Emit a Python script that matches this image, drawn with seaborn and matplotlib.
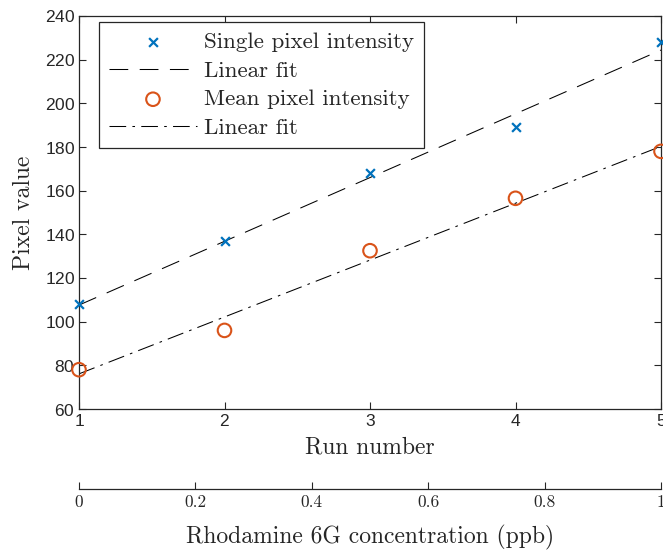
import numpy as np
import pandas as pd
import matplotlib
matplotlib.use("Agg")
import matplotlib.pyplot as plt
import seaborn as sns

# ---- data ----
run_number = [1, 2, 3, 4, 5]
single_pixel = [108, 137, 168, 189, 228]
mean_pixel = [78, 96, 132.5, 156.5, 178]
y_ticks = [60, 80, 100, 120, 140, 160, 180, 200, 220, 240]
conc_ticks = [0, 0.2, 0.4, 0.6, 0.8, 1]
conc_labels = ["0", "0.2", "0.4", "0.6", "0.8", "1"]

sns.set_theme(style="ticks")
plt.rcParams["axes.formatter.use_mathtext"] = True

SERIF = "cmr10"
SANS = "Liberation Sans"
AXC = "#262626"
BLUE = "#0072BD"
ORANGE = "#D95319"

df = pd.DataFrame({"run": run_number, "single": single_pixel, "mean": mean_pixel})
p1 = np.polyfit(df["run"], df["single"], 1)
p2 = np.polyfit(df["run"], df["mean"], 1)
xfit = np.array([1.0, 5.0])
fit = pd.DataFrame({"run": xfit,
                    "f1": np.polyval(p1, xfit),
                    "f2": np.polyval(p2, xfit)})

fig = plt.figure(figsize=(6.63, 5.52), dpi=100)
ax = fig.add_axes([79/663, (552-409)/552, (661-79)/663, (409-16)/552])

sns.scatterplot(data=df, x="run", y="single", ax=ax, marker="x", color=BLUE,
                s=40, linewidth=1.6, label="Single pixel intensity", zorder=3, clip_on=False)
sns.lineplot(data=fit, x="run", y="f1", ax=ax, color="black", linewidth=0.75,
             label="Linear fit")
ax.lines[-1].set_dashes([18, 11])
sns.scatterplot(data=df, x="run", y="mean", ax=ax, marker="o", facecolor="none",
                edgecolor=ORANGE, s=95, linewidth=1.5, label="Mean pixel intensity",
                zorder=3, clip_on=False)
sns.lineplot(data=fit, x="run", y="f2", ax=ax, color="black", linewidth=0.75,
             label="Linear fit")
ax.lines[-1].set_dashes([16, 6, 2.5, 6])

ax.set_xlim(1, 5)
ax.set_ylim(60, 240)
ax.set_xticks(run_number)
ax.set_yticks(y_ticks)
for s in ax.spines.values():
    s.set_color(AXC)
    s.set_linewidth(0.9)
ax.tick_params(direction="in", length=5, width=0.8, color=AXC, top=True, right=True,
               labelsize=12.5, labelcolor=AXC, pad=3)
for t in ax.get_xticklabels() + ax.get_yticklabels():
    t.set_fontfamily(SANS)
ax.set_xlabel("Run number", fontfamily=SERIF, fontsize=17, color=AXC, labelpad=5)
ax.set_ylabel("Pixel value", fontfamily=SERIF, fontsize=17, color=AXC, labelpad=7)

leg = ax.legend(loc="upper left", bbox_to_anchor=(0.034, 0.985), prop={"family": SERIF, "size": 16.6},
                frameon=True, fancybox=False, edgecolor=AXC, framealpha=1,
                handlelength=3.8, handletextpad=0.3, borderpad=0.45, labelspacing=0.36,
                borderaxespad=0)
leg.get_frame().set_linewidth(0.9)
for t in leg.get_texts():
    t.set_color(AXC)

# secondary concentration axis
ax2 = fig.add_axes([79/663, (552-489)/552, (661-79)/663, 0.0001])
ax2.set_xlim(0, 1)
ax2.set_xticks(conc_ticks)
ax2.set_xticklabels(conc_labels, fontfamily=SERIF)
ax2.set_yticks([])
for k in ["top", "left", "right"]:
    ax2.spines[k].set_visible(False)
ax2.spines["bottom"].set_color(AXC)
ax2.spines["bottom"].set_linewidth(0.9)
ax2.patch.set_visible(False)
ax2.tick_params(axis="x", direction="in", length=5, width=0.8, color=AXC,
                labelsize=12.5, labelcolor=AXC, pad=4)
ax2.set_xlabel("Rhodamine 6G concentration (ppb)", fontfamily=SERIF, fontsize=17,
               color=AXC, labelpad=11)

fig.savefig("out.png", dpi=100)
